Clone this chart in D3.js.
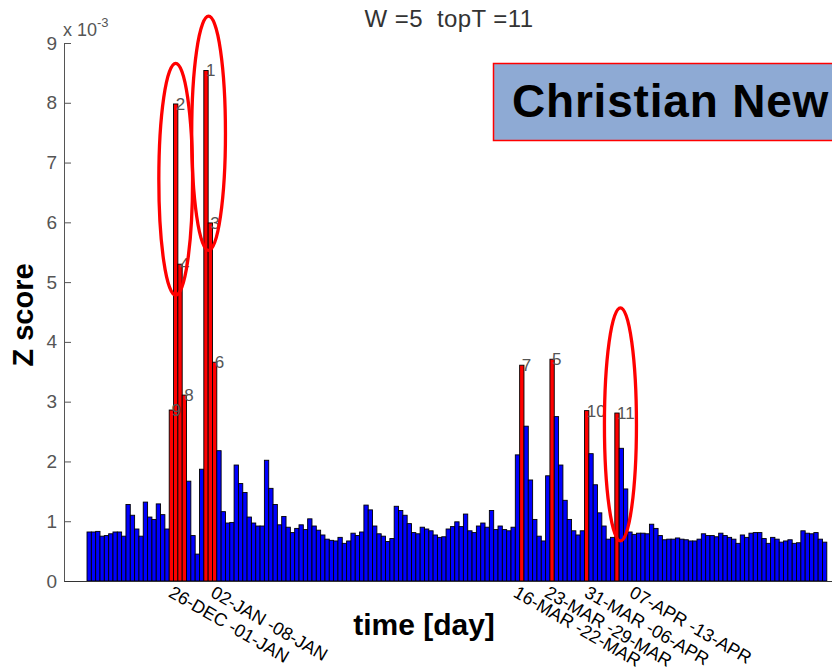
<!DOCTYPE html>
<html>
<head>
<meta charset="utf-8">
<script src="https://cdn.jsdelivr.net/npm/d3@7"></script>
<style>
  body { margin: 0; background: #fff; }
  svg { display: block; font-family: Arial, "Liberation Sans", sans-serif; }
</style>
</head>
<body>
<script>
// Z score per day (x 10^-3)
const zscore = [
  0.82, 0.82, 0.83, 0.75, 0.76, 0.79, 0.82, 0.82, 0.75, 1.28,
  1.10, 0.87, 0.75, 1.32, 1.07, 1.03, 1.29, 1.11, 0.87, 2.86,
  7.98, 5.30, 3.11, 1.67, 0.76, 0.45, 1.87, 8.54, 5.99, 3.66,
  2.18, 1.16, 0.97, 0.98, 1.94, 1.63, 1.48, 1.07, 0.97, 0.92,
  0.92, 2.02, 1.55, 1.28, 0.94, 1.08, 0.90, 0.81, 0.88, 0.94,
  0.86, 1.04, 0.92, 0.85, 0.77, 0.70, 0.68, 0.67, 0.73, 0.63,
  0.67, 0.80, 0.76, 0.82, 1.27, 1.19, 0.92, 0.79, 0.75, 0.66,
  0.71, 1.25, 1.18, 1.10, 0.96, 0.81, 0.79, 0.90, 0.87, 0.84,
  0.77, 0.73, 0.74, 0.87, 0.91, 0.99, 0.91, 1.12, 0.84, 0.81,
  0.92, 0.97, 0.90, 1.18, 0.86, 0.92, 0.86, 0.84, 0.90, 2.11,
  3.61, 2.59, 1.69, 1.03, 0.75, 0.67, 1.76, 3.71, 2.75, 1.94,
  1.35, 1.03, 0.84, 0.77, 0.84, 2.85, 2.13, 1.61, 1.14, 0.92,
  0.70, 0.73, 2.81, 2.22, 1.54, 0.82, 0.78, 0.80, 0.80, 0.79,
  0.95, 0.88, 0.76, 0.69, 0.70, 0.70, 0.72, 0.70, 0.69, 0.67,
  0.67, 0.70, 0.79, 0.76, 0.76, 0.74, 0.80, 0.76, 0.73, 0.70,
  0.63, 0.77, 0.73, 0.80, 0.81, 0.81, 0.71, 0.63, 0.73, 0.70,
  0.65, 0.67, 0.69, 0.63, 0.64, 0.84, 0.80, 0.79, 0.81, 0.70,
  0.65
];

// top days (bar index) and their rank
const topDays  = [27, 20, 28, 21, 107, 29, 100, 22, 19, 115, 122];
const topRanks = [1, 2, 3, 4, 5, 6, 7, 8, 9, 10, 11];

// x tick labels and where they sit (in days)
const tickDays   = [18.5, 28.2, 98.2, 105.4, 114.6, 125.0];
const tickLabels = ['26-DEC -01-JAN', '02-JAN -08-JAN', '16-MAR -22-MAR',
                    '23-MAR -29-MAR', '31-MAR -06-APR', '07-APR -13-APR'];

// red ellipses: center day, center value, half width (days), half height (value)
const ellDay = [20.5, 28.1, 123.3];
const ellVal = [6.72, 7.49, 2.62];
const ellRx  = [3.9, 3.9, 3.7];
const ellRy  = [1.94, 1.96, 1.95];

const W = 832, H = 670;

const svg = d3.select('body').append('svg')
    .attr('width', W)
    .attr('height', H);

const x = d3.scaleLinear()
    .domain([-5.32, 172.2])
    .range([64, 832]);

const y = d3.scaleLinear()
    .domain([0, 9])
    .range([581, 43]);

const rankOf = new Map(topDays.map((d, i) => [d, topRanks[i]]));

// bars
svg.append('g')
    .selectAll('rect')
    .data(zscore)
    .join('rect')
    .attr('x', (d, i) => x(i))
    .attr('width', (d, i) => x(i + 1) - x(i))
    .attr('y', d => y(d))
    .attr('height', d => y(0) - y(d))
    .attr('fill', (d, i) => rankOf.has(i) ? '#ff0000' : '#0000ff')
    .attr('stroke', '#000')
    .attr('stroke-width', 0.9);

// rank numbers
svg.append('g')
    .selectAll('text')
    .data(topDays)
    .join('text')
    .attr('x', d => x(d + 0.5))
    .attr('y', d => y(zscore[d]))
    .attr('dy', '0.35em')
    .attr('font-size', 17)
    .attr('fill', '#555')
    .text(d => rankOf.get(d));

// y axis
const yAxis = svg.append('g')
    .attr('transform', `translate(${x(-5.32)},0)`)
    .call(d3.axisLeft(y).ticks(9).tickSizeInner(-7).tickSizeOuter(0).tickPadding(7));

yAxis.selectAll('text')
    .attr('font-size', 19)
    .attr('font-family', 'Arial, "Liberation Sans", sans-serif')
    .attr('fill', '#555');
yAxis.selectAll('line, path').attr('stroke', '#555');

const expo = svg.append('text')
    .attr('x', 63)
    .attr('y', 36)
    .attr('font-size', 18)
    .attr('fill', '#555')
    .text('x 10');
expo.append('tspan')
    .attr('dy', -9)
    .attr('font-size', 13)
    .text('-3');

// x axis
const xAxis = svg.append('g')
    .attr('transform', `translate(0,${y(0)})`)
    .call(d3.axisBottom(x).tickValues(tickDays).tickFormat((d, i) => tickLabels[i])
        .tickSize(0).tickPadding(0));

xAxis.select('.domain').attr('stroke', '#333');
xAxis.selectAll('text')
    .attr('y', 0)
    .attr('dy', 0)
    .attr('transform', 'translate(0,15) rotate(30)')
    .style('text-anchor', 'start')
    .attr('font-size', 18)
    .attr('font-family', 'Arial, "Liberation Sans", sans-serif')
    .attr('fill', '#000');

// titles
svg.append('text')
    .attr('x', 449)
    .attr('y', 27)
    .attr('text-anchor', 'middle')
    .attr('font-size', 24)
    .attr('letter-spacing', 0.4)
    .attr('fill', '#333')
    .attr('xml:space', 'preserve')
    .text('W =5  topT =11');

svg.append('text')
    .attr('transform', 'translate(33,315) rotate(-90)')
    .attr('text-anchor', 'middle')
    .attr('font-size', 29)
    .attr('font-weight', 'bold')
    .text('Z score');

svg.append('text')
    .attr('x', 424)
    .attr('y', 635)
    .attr('text-anchor', 'middle')
    .attr('font-size', 30)
    .attr('font-weight', 'bold')
    .text('time [day]');

// red ellipses
svg.append('g')
    .selectAll('ellipse')
    .data(ellDay)
    .join('ellipse')
    .attr('cx', d => x(d))
    .attr('cy', (d, i) => y(ellVal[i]))
    .attr('rx', (d, i) => x(d + ellRx[i]) - x(d))
    .attr('ry', (d, i) => y(0) - y(ellRy[i]))
    .attr('fill', 'none')
    .attr('stroke', '#ff0000')
    .attr('stroke-width', 3.3);

// label box
svg.append('rect')
    .attr('x', 493.5)
    .attr('y', 63.5)
    .attr('width', 360)
    .attr('height', 77)
    .attr('fill', '#8eaad4')
    .attr('stroke', '#ff0000')
    .attr('stroke-width', 1.5);

svg.append('text')
    .attr('x', 512)
    .attr('y', 117)
    .attr('font-size', 46)
    .attr('letter-spacing', 0.8)
    .attr('font-weight', 'bold')
    .attr('fill', '#000')
    .text('Christian New');
</script>
</body>
</html>
